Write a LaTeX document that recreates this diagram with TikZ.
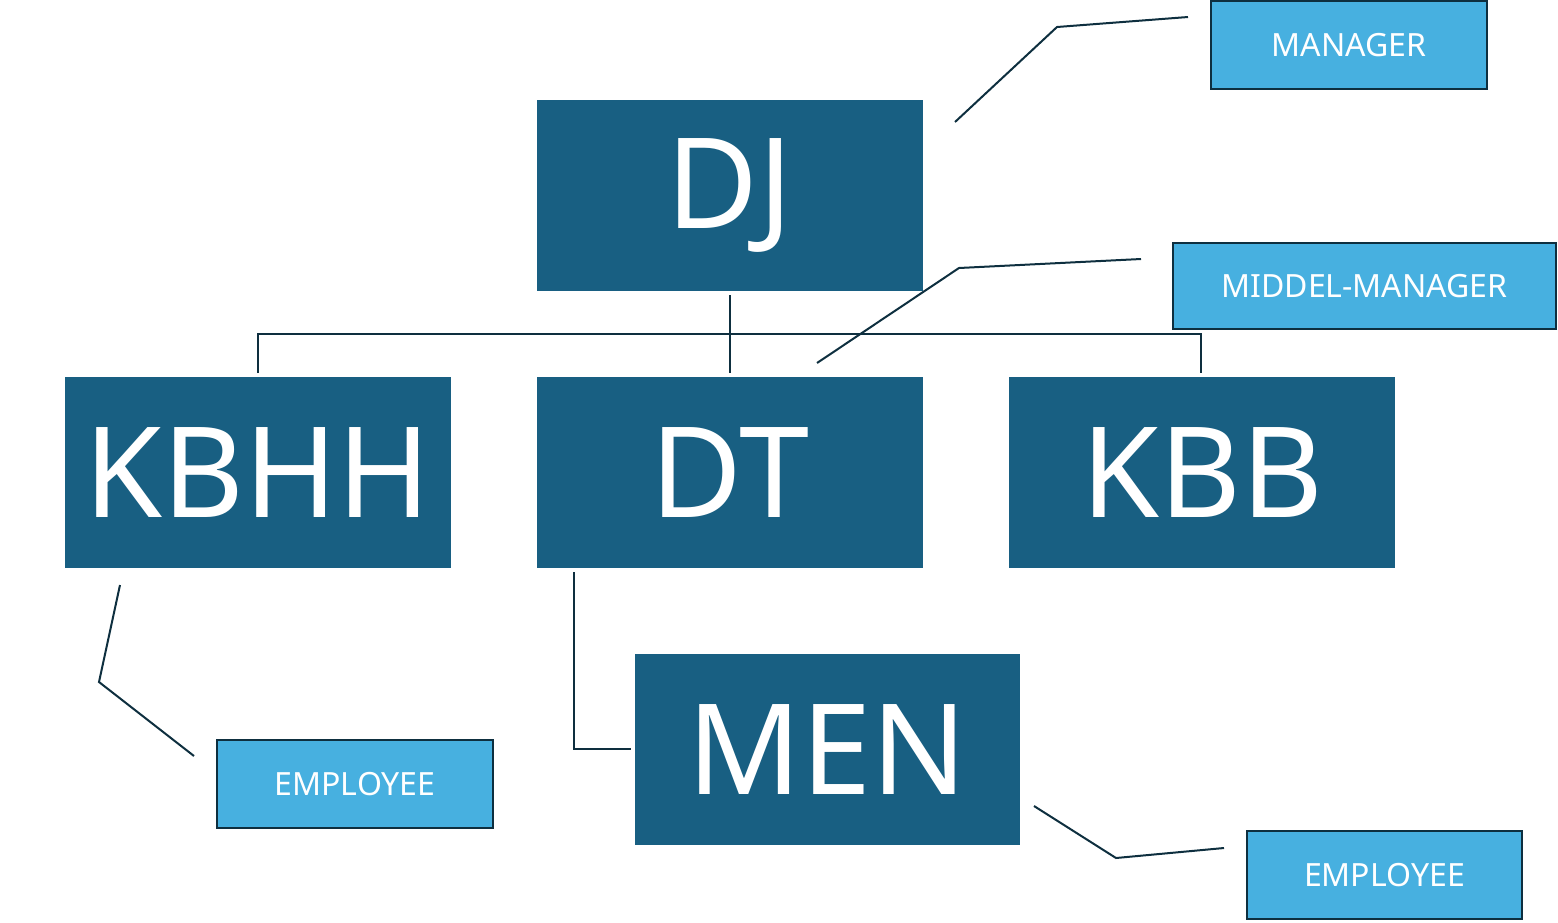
\documentclass[tikz,border=0pt]{standalone}
\usepackage{fontspec}
\setmainfont{Noto Sans}
\definecolor{dark}{HTML}{185F82}
\definecolor{light}{HTML}{47B0E0}
\definecolor{ln}{HTML}{0E2F3F}
\begin{document}
\begin{tikzpicture}[x=1pt,y=-1pt,
 big/.style={fill=dark,text=white,font=\fontsize{126}{126}\selectfont,inner sep=0pt},
 lab/.style={fill=light,draw=ln,line width=2pt,text=white,font=\fontsize{32}{32}\selectfont,inner sep=0pt},
 conn/.style={draw=ln,line width=2pt}]
\useasboundingbox (0,0) rectangle (1558,922);
\newcommand{\bx}[7]{\node[#1,minimum width=#4pt,minimum height=#5pt] (#6) at (#2,#3) {#7};}
\bx{big}{730}{195.5}{386}{191}{dj}{DJ}
\bx{big}{258}{472.5}{386}{191}{kbhh}{KBHH}
\bx{big}{730}{472.5}{386}{191}{dt}{DT}
\bx{big}{1202}{472.5}{386}{191}{kbb}{KBB}
\bx{big}{827.5}{749.5}{385}{191}{men}{MEN}
\bx{lab}{1349}{45}{276}{88}{l1}{MANAGER}
\bx{lab}{1364.5}{286}{383}{86}{l2}{MIDDEL-MANAGER}
\bx{lab}{355}{784}{276}{88}{l3}{EMPLOYEE}
\bx{lab}{1384.5}{875}{275}{88}{l4}{EMPLOYEE}
\coordinate (a) at (730,295); \coordinate (b) at (730,373);
\draw[conn] (a) -- (b);
\draw[conn] (258,373) -- (258,334) -- (1201,334) -- (1201,373);
\draw[conn] (574,572) -- (574,749) -- (631,749);
\draw[conn] (955,122) -- (1057,27) -- (1188,17);
\draw[conn] (817,363) -- (959,268) -- (1141,259);
\draw[conn] (120,585) -- (99,682) -- (194,756);
\draw[conn] (1034,806) -- (1116,858) -- (1224,848);
\end{tikzpicture}
\end{document}
